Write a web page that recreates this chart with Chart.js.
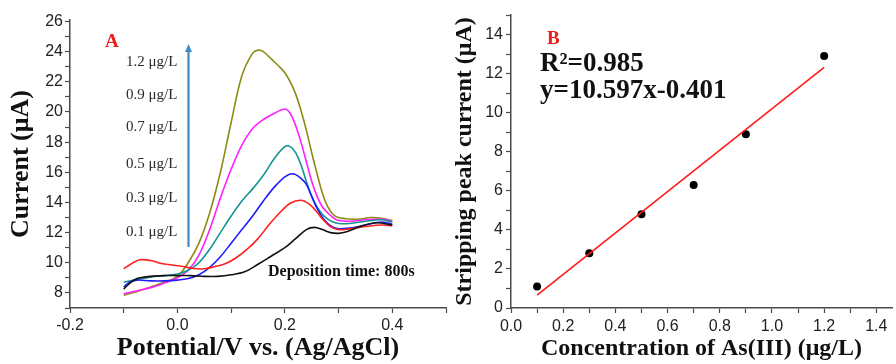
<!DOCTYPE html>
<html>
<head>
<meta charset="utf-8">
<script src="https://cdn.jsdelivr.net/npm/chart.js@4.4.1/dist/chart.umd.min.js"></script>
<style>
  html, body { margin: 0; padding: 0; background: #fff; }
  #wrap { position: relative; width: 896px; height: 364px; overflow: hidden; }
  #chartA { position: absolute; left: 0; top: 0; }
  #chartB { position: absolute; left: 450px; top: 0; }
</style>
</head>
<body>
<div id="wrap">
  <canvas id="chartA" width="450" height="364"></canvas>
  <canvas id="chartB" width="446" height="364"></canvas>
</div>
<script>
/**
 * Data
 */

// panel A: stripping voltammograms, potential (V) and current (uA) per concentration
var pot12 = [-0.1, -0.075, -0.05, -0.025, 0.0, 0.02, 0.04, 0.06, 0.08, 0.10, 0.12, 0.14, 0.15, 0.16, 0.175, 0.19, 0.20, 0.21, 0.22, 0.23, 0.24, 0.25, 0.26, 0.27, 0.28, 0.29, 0.30, 0.32, 0.34, 0.36, 0.38, 0.40];
var cur12 = [7.85, 8.1, 8.4, 8.7, 9.1, 10.0, 11.3, 13.3, 16.0, 19.3, 22.4, 23.9, 24.1, 24.0, 23.5, 23.0, 22.6, 22.0, 21.2, 20.1, 18.8, 17.3, 15.9, 14.6, 13.7, 13.2, 13.0, 12.9, 12.9, 13.0, 12.95, 12.8];

var pot09 = [-0.1, -0.075, -0.05, -0.025, 0.0, 0.02, 0.04, 0.06, 0.08, 0.10, 0.12, 0.14, 0.16, 0.18, 0.20, 0.21, 0.22, 0.23, 0.24, 0.25, 0.26, 0.27, 0.28, 0.29, 0.30, 0.32, 0.35, 0.38, 0.40];
var cur09 = [7.95, 8.15, 8.35, 8.65, 9.0, 9.5, 10.5, 12.2, 14.3, 16.2, 17.8, 18.9, 19.5, 19.9, 20.2, 19.9, 19.1, 18.0, 16.7, 15.4, 14.4, 13.7, 13.3, 13.0, 12.8, 12.75, 12.85, 12.9, 12.75];

var pot07 = [-0.1, -0.075, -0.05, -0.025, 0.0, 0.02, 0.04, 0.06, 0.08, 0.10, 0.12, 0.14, 0.16, 0.18, 0.20, 0.21, 0.22, 0.23, 0.24, 0.25, 0.26, 0.27, 0.28, 0.29, 0.30, 0.32, 0.35, 0.38, 0.40];
var cur07 = [8.7, 8.9, 9.05, 9.15, 9.25, 9.5, 10.0, 10.9, 12.0, 13.1, 14.1, 14.9, 15.8, 16.9, 17.7, 17.7, 17.3, 16.5, 15.4, 14.4, 13.7, 13.2, 12.9, 12.7, 12.6, 12.6, 12.75, 12.85, 12.7];

var pot05 = [-0.1, -0.09, -0.075, -0.05, -0.025, 0.0, 0.02, 0.04, 0.06, 0.08, 0.10, 0.12, 0.14, 0.16, 0.18, 0.20, 0.215, 0.23, 0.24, 0.25, 0.26, 0.27, 0.28, 0.29, 0.30, 0.32, 0.35, 0.38, 0.40];
var cur05 = [8.4, 8.7, 8.85, 8.8, 8.8, 8.85, 8.95, 9.2, 9.7, 10.4, 11.3, 12.2, 13.1, 14.1, 15.0, 15.7, 15.9, 15.6, 15.2, 14.4, 13.6, 13.0, 12.6, 12.35, 12.25, 12.3, 12.5, 12.7, 12.55];

var pot03 = [-0.1, -0.085, -0.07, -0.05, -0.03, -0.01, 0.01, 0.03, 0.05, 0.07, 0.09, 0.11, 0.13, 0.15, 0.17, 0.19, 0.21, 0.23, 0.245, 0.26, 0.27, 0.285, 0.30, 0.32, 0.35, 0.38, 0.40];
var cur03 = [9.6, 9.95, 10.2, 10.15, 9.95, 9.85, 9.75, 9.62, 9.6, 9.75, 9.95, 10.35, 10.9, 11.6, 12.5, 13.3, 13.95, 14.15, 13.9, 13.35, 12.9, 12.4, 12.2, 12.25, 12.4, 12.5, 12.45];

var pot01 = [-0.1, -0.09, -0.075, -0.05, -0.025, 0.0, 0.025, 0.05, 0.075, 0.10, 0.125, 0.15, 0.175, 0.20, 0.22, 0.24, 0.255, 0.27, 0.285, 0.30, 0.315, 0.34, 0.37, 0.40];
var cur01 = [8.25, 8.6, 8.95, 9.1, 9.15, 9.15, 9.15, 9.1, 9.1, 9.2, 9.4, 9.9, 10.45, 11.0, 11.6, 12.2, 12.35, 12.2, 12.0, 11.95, 12.05, 12.4, 12.65, 12.5];

var concLabels = ['1.2 \u03bcg/L', '0.9 \u03bcg/L', '0.7 \u03bcg/L', '0.5 \u03bcg/L', '0.3 \u03bcg/L', '0.1 \u03bcg/L'];

// panel B: calibration points and fitted line
var concentration = [0.1, 0.3, 0.5, 0.7, 0.9, 1.2];
var peakCurrent = [1.1, 2.8, 4.8, 6.3, 8.9, 12.9];
var fitX = [0.1, 1.2];
var fitY = [0.66, 12.32];

/**
 * Helpers
 */

var toPoints = function(xs, ys) {
    var pts = [];
    for (var i = 0; i < xs.length; i++) {
        pts.push({ x: xs[i], y: ys[i] });
    }
    return pts;
};

var serif = '"Liberation Serif", "Times New Roman", serif';
var sans = '"Liberation Sans", Arial, sans-serif';
var axisColor = '#4a4a4a';

var curve = function(xs, ys, color) {
    return {
        data: toPoints(xs, ys),
        showLine: true,
        borderColor: color,
        borderWidth: 1.6,
        pointRadius: 0,
        tension: 0.35,
        fill: false
    };
};

var axisBase = function() {
    return {
        type: 'linear',
        border: { display: true, color: axisColor, width: 1.5 },
        grid: { display: true, drawOnChartArea: false, drawTicks: true, tickLength: 5, tickColor: axisColor, tickWidth: 1.2 },
        ticks: { autoSkip: false, includeBounds: false, maxRotation: 0, minRotation: 0, color: '#222', font: { family: sans, size: 16 } }
    };
};

/**
 * Annotations for panel A
 */

var annotateA = {
    id: 'annotateA',
    afterDraw: function(chart) {
        var ctx = chart.ctx;
        var labelY = [62, 95, 127, 164, 198, 232];
        ctx.save();
        ctx.textBaseline = 'middle';
        ctx.textAlign = 'left';

        ctx.fillStyle = '#ee1c1c';
        ctx.font = 'bold 19px ' + serif;
        ctx.fillText('A', 105, 42);

        ctx.fillStyle = '#2a2a2a';
        ctx.font = '15px ' + serif;
        for (var i = 0; i < concLabels.length; i++) {
            ctx.fillText(concLabels[i], 126, labelY[i]);
        }

        // arrow
        ctx.strokeStyle = '#4189c4';
        ctx.fillStyle = '#4189c4';
        ctx.lineWidth = 2.2;
        ctx.beginPath();
        ctx.moveTo(188.5, 247);
        ctx.lineTo(188.5, 50);
        ctx.stroke();
        ctx.beginPath();
        ctx.moveTo(188.5, 44);
        ctx.lineTo(185, 52);
        ctx.lineTo(192, 52);
        ctx.closePath();
        ctx.fill();

        ctx.fillStyle = '#111';
        ctx.font = 'bold 16px ' + serif;
        ctx.fillText('Deposition time: 800s', 268, 272);
        ctx.restore();
    }
};

/**
 * Annotations for panel B
 */

var annotateB = {
    id: 'annotateB',
    afterDraw: function(chart) {
        var ctx = chart.ctx;
        ctx.save();
        ctx.textBaseline = 'middle';
        ctx.textAlign = 'left';
        ctx.fillStyle = '#ee1c1c';
        ctx.font = 'bold 19px ' + serif;
        ctx.fillText('B', 97, 39);
        ctx.fillStyle = '#111';
        ctx.font = 'bold 27px ' + serif;
        ctx.fillText('R\u00b2=0.985', 90, 64);
        ctx.fillText('y=10.597x-0.401', 90, 91);
        ctx.restore();
    }
};

/**
 * Panel A chart
 */

var xA = axisBase();
xA.min = -0.2;
xA.max = 0.5;
xA.ticks.stepSize = 0.1;
xA.ticks.padding = 3;
xA.ticks.callback = function(v) {
    var n = Math.round(v * 10);
    return n % 2 === 0 ? (n / 10).toFixed(1) : '';
};
xA.title = { display: true, text: 'Potential/V vs. (Ag/AgCl)', color: '#111', font: { family: serif, size: 26, weight: 'bold' }, padding: { top: 0, bottom: 0 } };
xA.afterFit = function(scale) { scale.height = 56; };

var yA = axisBase();
yA.min = 7;
yA.max = 26.1;
yA.ticks.stepSize = 1;
yA.ticks.padding = 2;
yA.ticks.callback = function(v) {
    var n = Math.round(v);
    return n % 2 === 0 ? String(n) : '';
};
yA.title = { display: true, text: 'Current (\u03bcA)', color: '#111', font: { family: serif, size: 26, weight: 'bold' }, padding: { top: 6, bottom: 0 } };
yA.afterFit = function(scale) { scale.width = 70; };

new Chart(document.getElementById('chartA'), {
    type: 'scatter',
    data: {
        datasets: [
            curve(pot01, cur01, '#111111'),
            curve(pot03, cur03, '#ff2020'),
            curve(pot05, cur05, '#1c1cff'),
            curve(pot07, cur07, '#139393'),
            curve(pot09, cur09, '#ff20ff'),
            curve(pot12, cur12, '#8c8c14')
        ]
    },
    options: {
        responsive: false,
        devicePixelRatio: 1,
        animation: false,
        layout: { padding: { top: 20, right: 4, left: 0, bottom: 0 } },
        plugins: { legend: { display: false }, tooltip: { enabled: false } },
        scales: { x: xA, y: yA }
    },
    plugins: [annotateA]
});

/**
 * Panel B chart
 */

var xB = axisBase();
xB.min = 0;
xB.max = 1.46;
xB.ticks.stepSize = 0.1;
xB.ticks.padding = 4;
xB.ticks.callback = function(v) {
    var n = Math.round(v * 10);
    return n % 2 === 0 ? (n / 10).toFixed(1) : '';
};
xB.title = { display: true, text: 'Concentration of As(III) (\u03bcg/L)', color: '#111', font: { family: serif, size: 24, weight: 'bold' }, padding: { top: 0, bottom: 1 } };
xB.afterFit = function(scale) { scale.height = 56; };

var yB = axisBase();
yB.min = 0;
yB.max = 15;
yB.ticks.stepSize = 1;
yB.ticks.padding = 3;
yB.ticks.callback = function(v) {
    var n = Math.round(v);
    return n % 2 === 0 ? String(n) : '';
};
yB.title = { display: true, text: 'Stripping peak current (\u03bcA)', color: '#111', font: { family: serif, size: 24, weight: 'bold' }, padding: { top: 0, bottom: 0 } };
yB.afterFit = function(scale) { scale.width = 61; };

new Chart(document.getElementById('chartB'), {
    type: 'scatter',
    data: {
        datasets: [
            {
                data: toPoints(fitX, fitY),
                showLine: true,
                borderColor: '#ff1a1a',
                borderWidth: 1.6,
                pointRadius: 0
            },
            {
                data: toPoints(concentration, peakCurrent),
                showLine: false,
                pointRadius: 4,
                pointBackgroundColor: '#000',
                pointBorderColor: '#000',
                pointBorderWidth: 0
            }
        ]
    },
    options: {
        responsive: false,
        devicePixelRatio: 1,
        animation: false,
        layout: { padding: { top: 15, right: 0, left: 0, bottom: 0 } },
        plugins: { legend: { display: false }, tooltip: { enabled: false } },
        scales: { x: xB, y: yB }
    },
    plugins: [annotateB]
});
</script>
</body>
</html>
